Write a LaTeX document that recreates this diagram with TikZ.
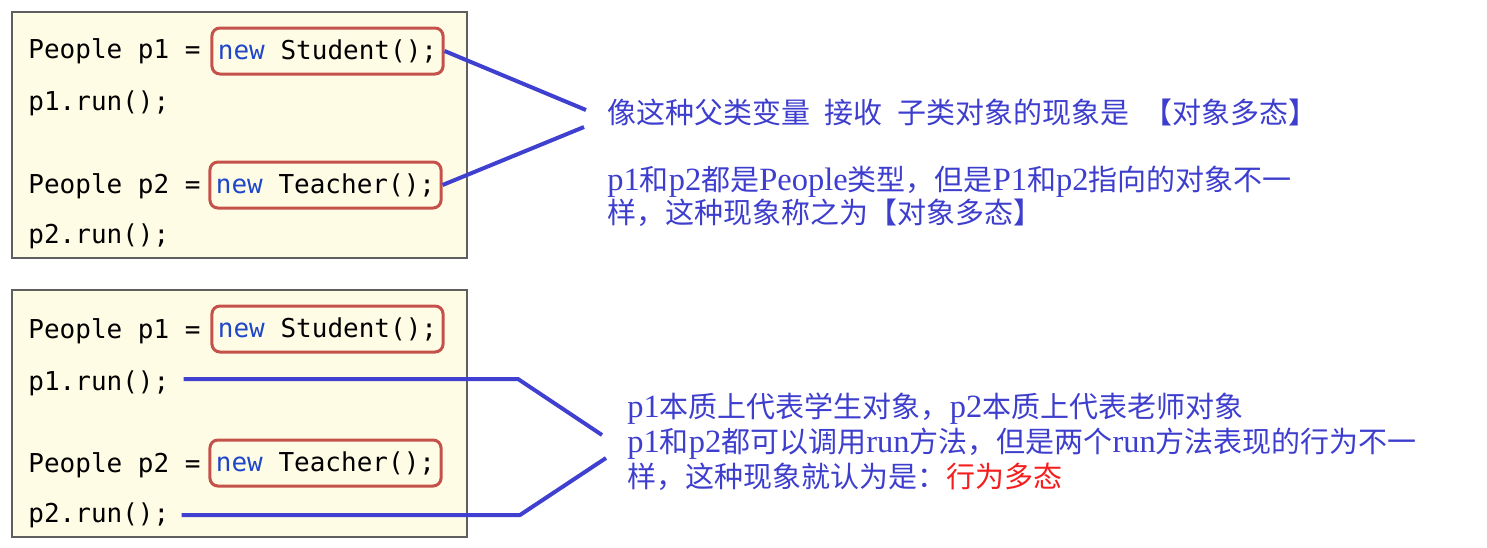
\documentclass[tikz,border=0pt]{standalone}
\usepackage{fontspec}
\setmainfont{Noto Sans CJK SC}
\newfontfamily\lat[Scale=1.12]{Liberation Serif}
\newfontfamily\codefont{DejaVu Sans Mono}
\definecolor{cream}{RGB}{255,252,230}
\definecolor{boxgray}{RGB}{95,95,95}
\definecolor{redb}{RGB}{196,82,74}
\definecolor{newblue}{RGB}{30,70,200}
\definecolor{lineblue}{RGB}{64,64,208}
\definecolor{txtblue}{RGB}{62,62,206}
\definecolor{txtred}{RGB}{245,30,30}
\begin{document}
\begin{tikzpicture}[x=0.5pt,y=-0.5pt,
  codebox/.style={draw=boxgray, fill=cream, line width=0.75pt, inner sep=0pt},
  code/.style={font=\codefont\fontsize{13}{15}\selectfont, inner sep=0pt, anchor=base west},
  redbox/.style={draw=redb, line width=1.5pt, rounded corners=4pt, minimum width=115.5pt,
    minimum height=23pt, inner xsep=3pt, inner ysep=0pt, font=\codefont\fontsize{13}{15}\selectfont},
  conn/.style={draw=lineblue, line width=2pt, line join=round},
  note/.style={font=\fontsize{14.5}{16.5}\selectfont, text=txtblue, align=left, anchor=west, inner sep=0pt},
  notewide/.style={note, font=\fontsize{14.5}{17.5}\selectfont}]
\useasboundingbox (0,0) rectangle (1487,547);
% code boxes
\node[codebox, minimum width=227.5pt, minimum height=123pt] (box1) at (239.5,135) {};
\node[codebox, minimum width=227.5pt, minimum height=123.5pt] (box2) at (239.5,413.5) {};
% top code
\node[code] (d1) at (28,58) {People p1 =};
\node[redbox] (n1) at (327.5,51) {\textcolor{newblue}{new} Student();};
\node[code] (r1) at (28,110) {p1.run();};
\node[code] (d2) at (28,193) {People p2 =};
\node[redbox] (n2) at (325.5,185) {\textcolor{newblue}{new} Teacher();};
\node[code] (r2) at (28,243) {p2.run();};
% bottom code
\node[code] (d3) at (28,338) {People p1 =};
\node[redbox] (n3) at (327.5,329) {\textcolor{newblue}{new} Student();};
\node[code] (r3) at (28,390) {p1.run();};
\node[code] (d4) at (28,472) {People p2 =};
\node[redbox] (n4) at (325.5,463) {\textcolor{newblue}{new} Teacher();};
\node[code] (r4) at (28,522) {p2.run();};
% notes
\node[note] (t1) at (607,112) {像这种父类变量\hspace{0.5em}接收\hspace{0.5em}子类对象的现象是\hspace{0.5em}【对象多态】};
\node[note] (t2) at (607,196.5) {{\lat p1}和{\lat p2}都是{\lat People}类型，但是{\lat P1}和{\lat p2}指向的对象不一\\样，这种现象称之为【对象多态】};
\node[notewide] (t3) at (627,442) {{\lat p1}本质上代表学生对象，{\lat p2}本质上代表老师对象\\{\lat p1}和{\lat p2}都可以调用{\lat run}方法，但是两个{\lat run}方法表现的行为不一\\样，这种现象就认为是：\textcolor{txtred}{行为多态}};
% connectors
\coordinate (c1) at (586,110);
\coordinate (c2) at (584,127);
\draw[conn] (n1.east) -- (c1);
\draw[conn] (n2.east) -- (c2);
\coordinate (k1) at (518,379);
\coordinate (e1) at (602,435);
\coordinate (k2) at (520,515);
\coordinate (e2) at (606,458);
\draw[conn] ([xshift=7pt,yshift=5.5pt]r3.base east) coordinate (s1) -- (s1 -| k1) -- (e1);
\draw[conn] ([xshift=6pt,yshift=3.5pt]r4.base east) coordinate (s2) -- (s2 -| k2) -- (e2);
\end{tikzpicture}
\end{document}
